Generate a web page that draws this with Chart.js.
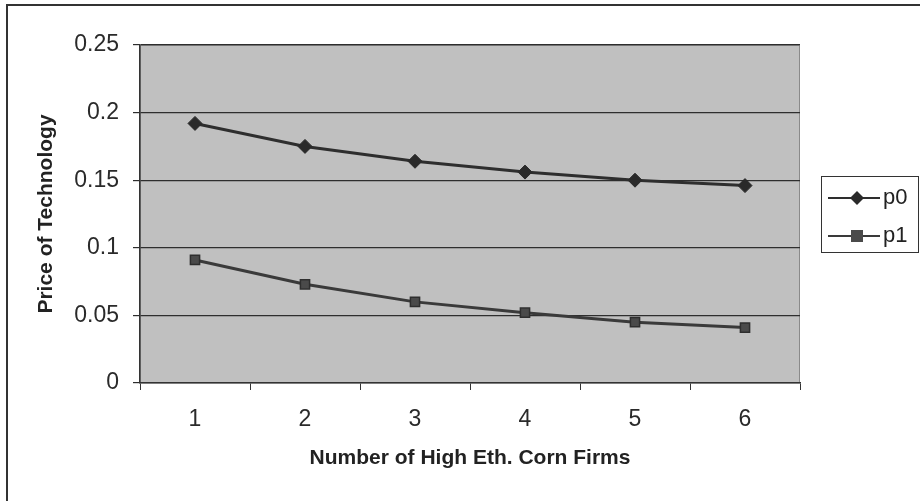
<!DOCTYPE html>
<html>
<head>
<meta charset="utf-8">
<script src="https://cdn.jsdelivr.net/npm/chart.js@4/dist/chart.umd.min.js"></script>
<style>
  html, body { margin: 0; padding: 0; background: #ffffff; }
  #wrap { width: 920px; height: 501px; }
</style>
</head>
<body>
<div id="wrap"><canvas id="c" width="920" height="501"></canvas></div>
<script>
// Number of high-ethanol corn firms on the x axis
const firms = ['1', '2', '3', '4', '5', '6'];
// Technology prices for each firm count
const p0 = [0.192, 0.175, 0.164, 0.156, 0.150, 0.146];
const p1 = [0.091, 0.073, 0.060, 0.052, 0.045, 0.041];
const seriesNames = ['p0', 'p1'];
const yMin = 0, yMax = 0.25, yStep = 0.05;

const FONT = "'Liberation Sans', Arial, sans-serif";
const LINE = '#2e2e2e';

// Grey plot area, outer frame and a boxed line-and-marker legend
const decor = {
  id: 'decor',
  beforeDraw(chart) {
    const { ctx, chartArea: a } = chart;
    ctx.save();
    ctx.fillStyle = '#ffffff';
    ctx.fillRect(0, 0, chart.width, chart.height);
    ctx.fillStyle = '#c0c0c0';
    ctx.fillRect(a.left, a.top, a.right - a.left, a.bottom - a.top);
    ctx.strokeStyle = '#8a8a8a';
    ctx.lineWidth = 1;
    ctx.strokeRect(a.left + 0.5, a.top + 0.5, a.right - a.left - 1, a.bottom - a.top - 1);
    // frame
    ctx.strokeStyle = '#333333';
    ctx.lineWidth = 2;
    ctx.beginPath();
    ctx.moveTo(7, chart.height);
    ctx.lineTo(7, 5);
    ctx.lineTo(chart.width, 5);
    ctx.stroke();
    ctx.restore();
  },
  afterDraw(chart) {
    const { ctx } = chart;
    ctx.save();
    ctx.strokeStyle = '#333333';
    ctx.lineWidth = 1;
    ctx.strokeRect(821.5, 176.5, 97, 76);
    const rows = [198, 236];
    chart.data.datasets.forEach((ds, i) => {
      const y = rows[i];
      ctx.strokeStyle = ds.borderColor;
      ctx.lineWidth = 2;
      ctx.beginPath();
      ctx.moveTo(828, y);
      ctx.lineTo(880, y);
      ctx.stroke();
      ctx.fillStyle = ds.pointBackgroundColor;
      ctx.beginPath();
      if (ds.pointStyle === 'rectRot') {
        ctx.moveTo(857, y - 7);
        ctx.lineTo(864, y);
        ctx.lineTo(857, y + 7);
        ctx.lineTo(850, y);
        ctx.closePath();
      } else {
        ctx.rect(851, y - 6, 12, 12);
      }
      ctx.fill();
      ctx.fillStyle = '#222222';
      ctx.font = '22px ' + FONT;
      ctx.textBaseline = 'middle';
      ctx.textAlign = 'left';
      ctx.fillText(ds.label, 883, y);
    });
    ctx.restore();
  }
};

new Chart(document.getElementById('c'), {
  type: 'line',
  data: {
    labels: firms,
    datasets: [
      {
        label: seriesNames[0],
        data: p0,
        borderColor: LINE,
        borderWidth: 3,
        pointStyle: 'rectRot',
        pointRadius: 7,
        pointBackgroundColor: '#2a2a2a',
        pointBorderColor: '#2a2a2a',
        pointBorderWidth: 1,
        tension: 0
      },
      {
        label: seriesNames[1],
        data: p1,
        borderColor: '#3a3a3a',
        borderWidth: 3,
        pointStyle: 'rect',
        pointRadius: 6.5,
        pointBackgroundColor: '#4a4a4a',
        pointBorderColor: '#2e2e2e',
        pointBorderWidth: 1.5,
        tension: 0
      }
    ]
  },
  options: {
    responsive: false,
    animation: false,
    layout: { padding: { left: 0, top: 45, right: 120, bottom: 0 } },
    plugins: {
      legend: { display: false },
      tooltip: { enabled: false }
    },
    scales: {
      x: {
        offset: true,
        grid: {
          offset: true,
          drawOnChartArea: false,
          drawTicks: true,
          tickLength: 7,
          color: '#333333'
        },
        border: { color: '#333333', width: 1.5 },
        ticks: {
          color: '#2a2a2a',
          font: { family: FONT, size: 23 },
          padding: 16
        },
        title: {
          display: true,
          text: 'Number of High Eth. Corn Firms',
          color: '#222222',
          font: { family: FONT, size: 21, weight: 'bold' },
          padding: { top: 0, bottom: 30 }
        },
        afterFit(scale) { scale.height = 118; }
      },
      y: {
        min: yMin,
        max: yMax,
        ticks: {
          stepSize: yStep,
          color: '#2a2a2a',
          font: { family: FONT, size: 23 },
          padding: 14,
          callback: (v) => String(Number(v.toFixed(2)))
        },
        grid: {
          color: '#2e2e2e',
          lineWidth: 1.2,
          tickLength: 7
        },
        border: { color: '#333333', width: 1.5 },
        title: {
          display: true,
          text: 'Price of Technology',
          color: '#222222',
          font: { family: FONT, size: 21, weight: 'bold' },
          padding: { top: 34, bottom: 0 }
        },
        afterFit(scale) { scale.width = 140; }
      }
    }
  },
  plugins: [decor]
});
</script>
</body>
</html>
